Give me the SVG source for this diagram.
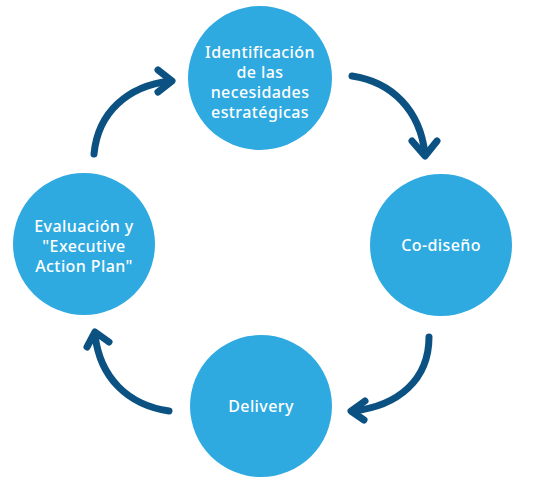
<svg xmlns="http://www.w3.org/2000/svg" width="538" height="490" viewBox="0 0 538 490">
<style>
.c{fill:#2EAAE1}
.t{fill:#ffffff;font-family:"Noto Sans","Liberation Sans",sans-serif;font-size:16px;font-weight:500;letter-spacing:0.4px;text-anchor:middle}
.a{fill:none;stroke:#0B5283;stroke-width:7;stroke-linecap:round;stroke-linejoin:round}
</style>
<rect width="538" height="490" fill="#ffffff"/>
<g id="connectors">
<path class="a" d="M352,76 C392,82 420,110 425,154"/>
<path class="a" d="M412,141 L425,156 L437,141"/>
<path class="a" d="M429,337 C429,380 398,406 353,411"/>
<path class="a" d="M365,401 L351,411 L364,420"/>
<path class="a" d="M169,411 C128,405 100,378 95,335"/>
<path class="a" d="M87,347 L95,332 L109,342"/>
<path class="a" d="M94,154 C98,112 128,86 170,81"/>
<path class="a" d="M158,70 L172,81 L158,92"/>
</g>
<g id="node-identificacion">
<circle class="c" cx="260" cy="78" r="72"/>
<text class="t" x="260" y="58">Identificación</text>
<text class="t" x="260" y="78">de las</text>
<text class="t" x="260" y="98">necesidades</text>
<text class="t" x="260" y="118">estratégicas</text>
</g>
<g id="node-codiseno">
<circle class="c" cx="441" cy="245" r="71"/>
<text class="t" x="441" y="251">Co-diseño</text>
</g>
<g id="node-delivery">
<circle class="c" cx="261" cy="406" r="71"/>
<text class="t" x="261" y="412">Delivery</text>
</g>
<g id="node-evaluacion">
<circle class="c" cx="84" cy="244" r="71"/>
<text class="t" x="84" y="232">Evaluación y</text>
<text class="t" x="84" y="252">"Executive</text>
<text class="t" x="84" y="272">Action Plan"</text>
</g>
</svg>
